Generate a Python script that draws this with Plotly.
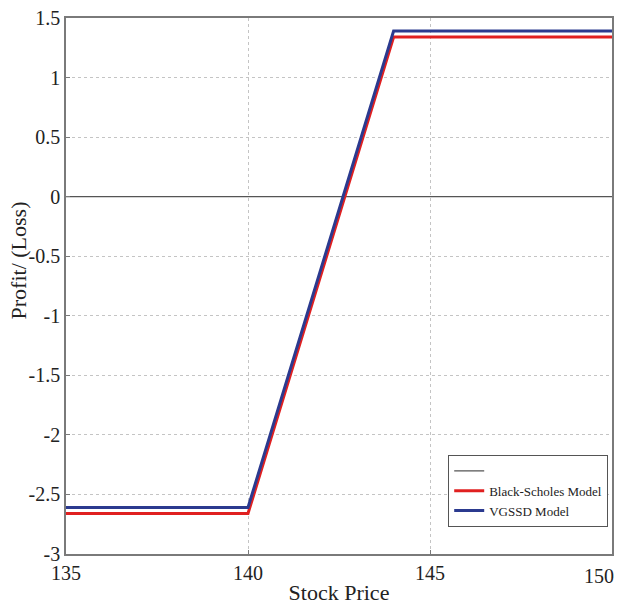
import plotly.graph_objects as go

stock_price = [135, 140, 144, 150]
black_scholes = [-2.66, -2.66, 1.34, 1.34]
vgssd = [-2.61, -2.61, 1.39, 1.39]
zero_x = [135, 150]
zero_y = [0, 0]

y_ticks = [1.5, 1, 0.5, 0, -0.5, -1, -1.5, -2, -2.5, -3]
y_labels = ["1.5", "1", "0.5", "0", "-0.5", "-1", "-1.5", "-2", "-2.5", "-3"]
x_ticks = [135, 140, 145, 150]
x_labels = ["135", "140", "145", "150"]

SERIF = "Liberation Serif, Times New Roman, serif"

fig = go.Figure()
fig.add_trace(go.Scatter(x=zero_x, y=zero_y, mode="lines", name="",
                         line=dict(color="#555555", width=1.2)))
fig.add_trace(go.Scatter(x=stock_price, y=black_scholes, mode="lines",
                         name="Black-Scholes Model",
                         line=dict(color="#e02020", width=3)))
fig.add_trace(go.Scatter(x=stock_price, y=vgssd, mode="lines",
                         name="VGSSD Model",
                         line=dict(color="#2b3a8f", width=3)))

axis_common = dict(showline=True, mirror=True, linecolor="#7a7a7a", linewidth=1.5,
                   showgrid=True, gridcolor="#c4c4c4", griddash="dot", gridwidth=1,
                   zeroline=False, ticks="inside", ticklen=4, tickcolor="#7a7a7a",
                   automargin=False,
                   tickfont=dict(family=SERIF, size=20, color="#222222"))

# last x tick label is drawn as an annotation so it can sit inside the page edge
x_ticktext = x_labels[:-1] + [""]

fig.update_layout(
    width=619, height=605,
    margin=dict(l=66, r=7, t=18, b=51),
    paper_bgcolor="white", plot_bgcolor="white",
    font=dict(family=SERIF, color="#222222"),
    xaxis=dict(range=[135, 150], tickvals=x_ticks, ticktext=x_ticktext,
               ticklabelstandoff=0,
               title=dict(text="Stock Price", font=dict(family=SERIF, size=22), standoff=6),
               **axis_common),
    yaxis=dict(range=[-3, 1.5], tickvals=y_ticks, ticktext=y_labels,
               **axis_common),
    legend=dict(x=0.70, y=0.185, xanchor="left", yanchor="top",
                bgcolor="white", bordercolor="#555555", borderwidth=1,
                font=dict(family=SERIF, size=13, color="#222222"),
                tracegroupgap=0, itemwidth=30),
    showlegend=True,
    annotations=[
        dict(text="Profit/ (Loss)", textangle=-90, xref="paper", yref="paper",
             x=-0.0876, y=0.548, xanchor="center", yanchor="middle",
             showarrow=False, font=dict(family=SERIF, size=22, color="#222222")),
        dict(text=x_labels[-1], xref="x", yref="paper", x=x_ticks[-1], y=0,
             xanchor="right", yanchor="top", xshift=4, yshift=-9,
             showarrow=False, font=dict(family=SERIF, size=20, color="#222222")),
    ],
)

fig.write_html("out.html", config={"displayModeBar": False},
               post_script="document.body.style.margin='0';")
